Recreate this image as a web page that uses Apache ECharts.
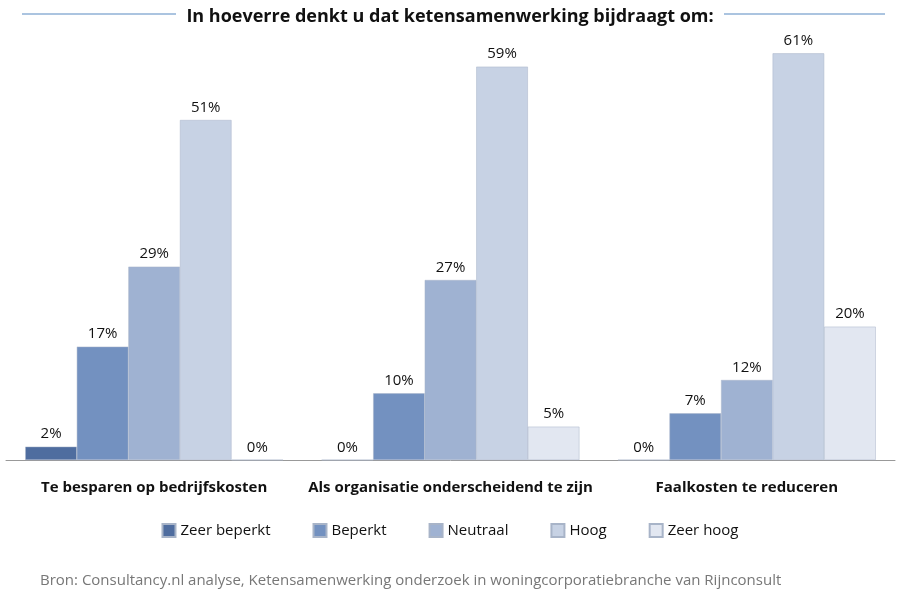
<!DOCTYPE html>
<html>
<head>
<meta charset="utf-8" />
<script src="https://cdn.jsdelivr.net/npm/echarts@6/dist/echarts.min.js"></script>
<style>body{margin:0;}</style>
</head>
<body>
<div id="echart" style="width:900px;height:600px;"></div>
<script>
    var categories = ['Te besparen op bedrijfskosten', 'Als organisatie onderscheidend te zijn', 'Faalkosten te reduceren'];
    var seriesNames = ['Zeer beperkt', 'Beperkt', 'Neutraal', 'Hoog', 'Zeer hoog'];
    var zeerBeperkt = [2, 0, 0];
    var beperkt = [17, 10, 7];
    var neutraal = [29, 27, 12];
    var hoog = [51, 59, 61];
    var zeerHoog = [0, 5, 20];
    var colors = ['#4f6d9f', '#7391c0', '#9fb2d2', '#c7d2e4', '#e2e7f1'];

    var allData = [zeerBeperkt, beperkt, neutraal, hoog, zeerHoog];
    var chart = echarts.init(document.getElementById('echart'));

    var series = seriesNames.map(function (name, i) {
        return {
            name: name,
            type: 'bar',
            data: allData[i],
            barGap: '0%',
            barCategoryGap: '13%',
            itemStyle: { color: colors[i], borderColor: '#a8b4c8', borderWidth: 0.5 },
            label: {
                show: true, position: 'top', formatter: '{c}%',
                color: '#111', fontSize: 15, fontFamily: 'Open Sans'
            }
        };
    });

    chart.setOption({
        animation: false,
        title: {
            text: 'In hoeverre denkt u dat ketensamenwerking bijdraagt om:',
            left: 'center', top: 3,
            textStyle: { fontSize: 18, fontWeight: 'bold', color: '#111', fontFamily: 'Open Sans' }
        },
        graphic: [
            { type: 'line', shape: { x1: 22, y1: 14, x2: 176, y2: 14 }, style: { stroke: '#8fb0d6', lineWidth: 1.5 } },
            { type: 'line', shape: { x1: 724, y1: 14, x2: 885, y2: 14 }, style: { stroke: '#8fb0d6', lineWidth: 1.5 } },
            {
                type: 'text', left: 40, top: 573,
                style: {
                    text: 'Bron: Consultancy.nl analyse, Ketensamenwerking onderzoek in woningcorporatiebranche van Rijnconsult',
                    fill: '#777', fontSize: 15, fontFamily: 'Open Sans'
                }
            }
        ],
        legend: {
            data: seriesNames, bottom: 57, itemWidth: 13, itemHeight: 13, itemGap: 42, icon: 'rect',
            textStyle: { fontSize: 15, color: '#111', fontFamily: 'Open Sans' }
        },
        grid: { left: 6, right: 5, top: 20, bottom: 140 },
        xAxis: {
            type: 'category', data: categories,
            axisLine: { lineStyle: { color: '#999' } },
            axisTick: { show: false },
            axisLabel: { interval: 0, fontSize: 15, fontWeight: 'bold', color: '#111', margin: 20, fontFamily: 'Open Sans' }
        },
        yAxis: { type: 'value', min: 0, max: 66, show: false },
        series: series
    });
</script>
</body>
</html>
